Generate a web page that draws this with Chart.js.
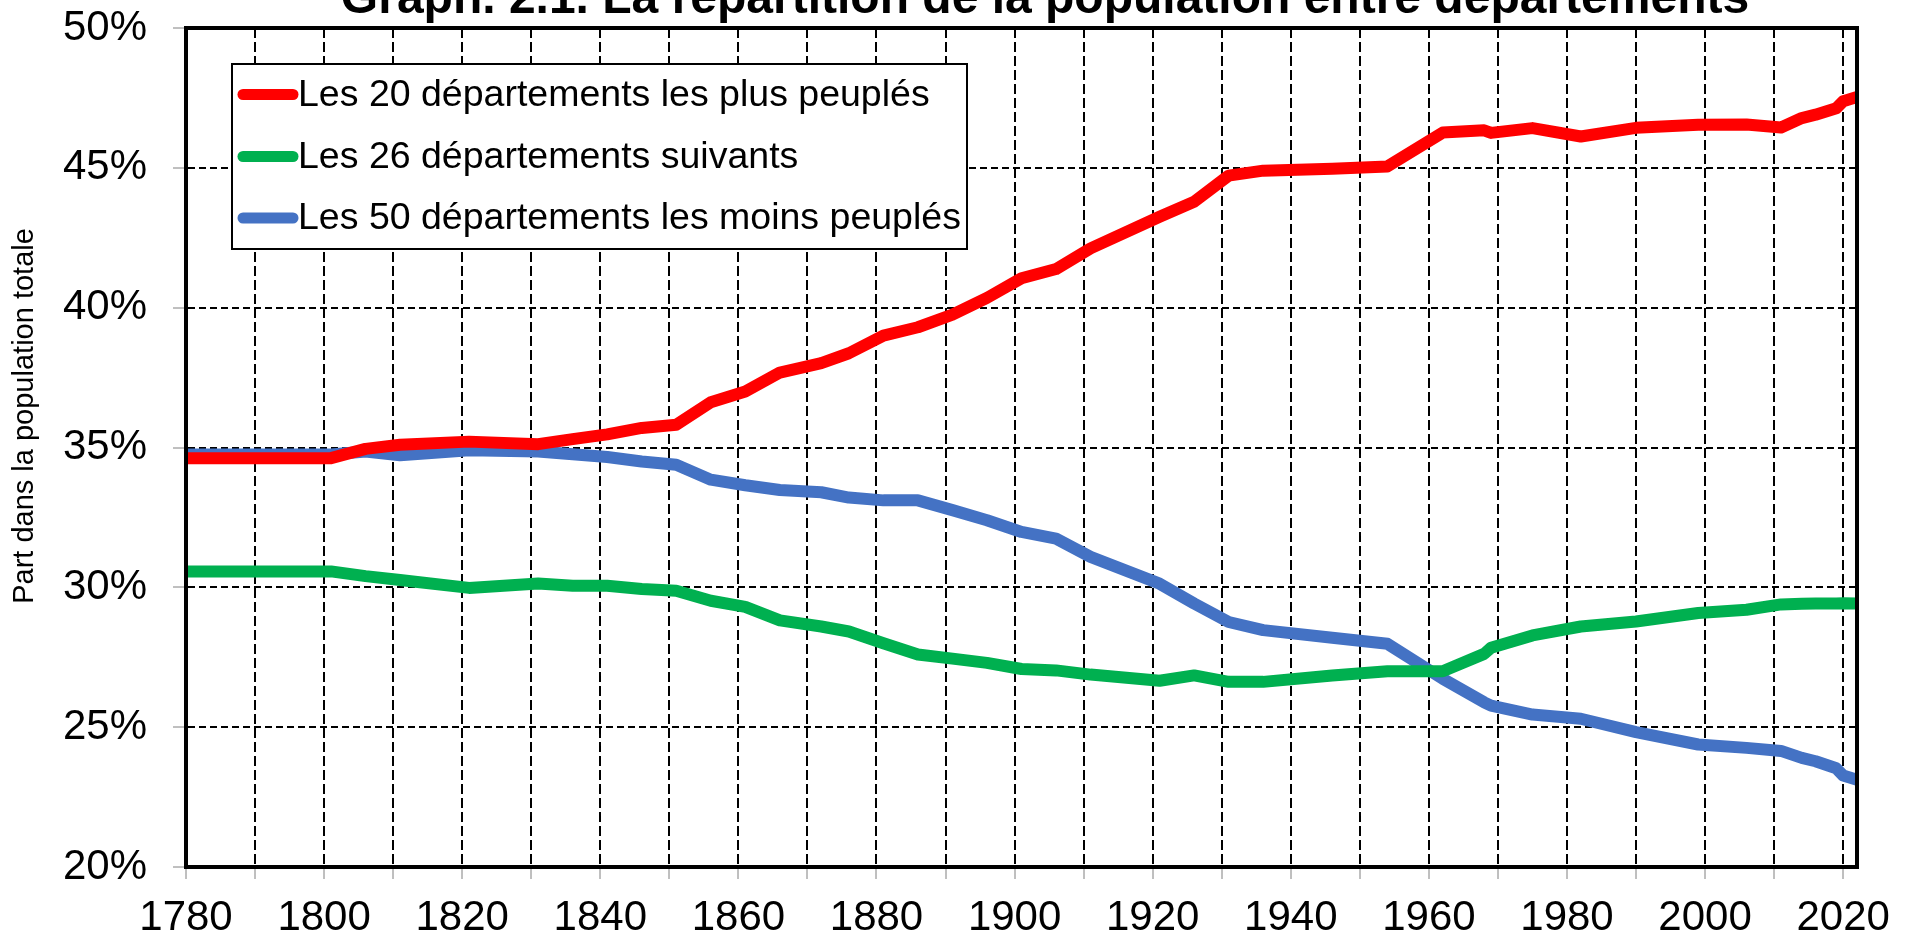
<!DOCTYPE html>
<html lang="fr">
<head>
<meta charset="utf-8">
<title>Graph. 2.1</title>
<script src="https://cdn.jsdelivr.net/npm/chart.js@4.4.1/dist/chart.umd.min.js"></script>
<style>
  html, body { margin: 0; padding: 0; background: #fff; }
  canvas { display: block; }
</style>
</head>
<body>
<canvas id="popChart" width="1905" height="937"></canvas>
<script>
// Data
const years = [1780, 1801, 1806, 1811, 1821, 1831, 1836, 1841, 1846, 1851, 1856, 1861, 1866, 1872,
  1876, 1881, 1886, 1891, 1896, 1901, 1906, 1911, 1921, 1926, 1931, 1936, 1946, 1954, 1962, 1968,
  1969, 1975, 1982, 1990, 1999, 2006, 2011, 2014, 2016, 2019, 2020, 2022];
const top20 = [34.62, 34.62, 34.95, 35.10, 35.21, 35.12, 35.30, 35.47, 35.70, 35.81, 36.62, 37.00,
  37.68, 38.02, 38.37, 39.00, 39.30, 39.75, 40.35, 41.05, 41.38, 42.12, 43.25, 43.79, 44.72, 44.90,
  44.97, 45.05, 46.26, 46.34, 46.25, 46.42, 46.12, 46.43, 46.54, 46.55, 46.44, 46.78, 46.90, 47.13,
  47.38, 47.53];
const next26 = [30.57, 30.57, 30.40, 30.26, 29.98, 30.14, 30.06, 30.06, 29.94, 29.88, 29.52, 29.30,
  28.82, 28.60, 28.42, 28.00, 27.60, 27.45, 27.30, 27.08, 27.03, 26.88, 26.66, 26.85, 26.62, 26.62,
  26.85, 27.00, 27.00, 27.62, 27.84, 28.28, 28.60, 28.78, 29.08, 29.20, 29.39, 29.41, 29.42, 29.42,
  29.43, 29.42];
const last50 = [34.75, 34.75, 34.86, 34.72, 34.90, 34.86, 34.76, 34.66, 34.50, 34.38, 33.85, 33.65,
  33.48, 33.40, 33.21, 33.11, 33.11, 32.76, 32.40, 31.98, 31.74, 31.09, 30.13, 29.42, 28.76, 28.47,
  28.20, 27.98, 26.73, 25.89, 25.77, 25.45, 25.30, 24.82, 24.38, 24.26, 24.15, 23.90, 23.78, 23.53,
  23.27, 23.12];
const seriesLabels = [
  'Les 20 départements les plus peuplés',
  'Les 26 départements suivants',
  'Les 50 départements les moins peuplés'
];
const chartTitle = 'Graph. 2.1. La répartition de la population entre départements';
const yTitle = 'Part dans la population totale';

const FONT = '"Liberation Sans", Arial, sans-serif';

function toPoints(values) {
  return values.map((v, i) => ({ x: years[i], y: v }));
}

function lineSet(label, values, color) {
  return {
    label: label,
    data: toPoints(values),
    borderColor: color,
    backgroundColor: color,
    borderWidth: 12,
    borderJoinStyle: 'round',
    pointRadius: 0,
    tension: 0,
    fill: false
  };
}

// Title, y title, legend box and frame
const decorations = {
  id: 'decorations',
  afterDatasetsDraw(chart) {
    const ctx = chart.ctx;
    const area = chart.chartArea;
    ctx.save();

    // legend
    ctx.fillStyle = '#fff';
    ctx.fillRect(232, 64, 735, 185);
    ctx.strokeStyle = '#000';
    ctx.lineWidth = 2;
    ctx.strokeRect(232, 64, 735, 185);
    const rows = [94.5, 156.5, 218];
    chart.data.datasets.forEach((ds, i) => {
      ctx.beginPath();
      ctx.strokeStyle = ds.borderColor;
      ctx.lineWidth = 11;
      ctx.lineCap = 'round';
      ctx.moveTo(243, rows[i]);
      ctx.lineTo(293, rows[i]);
      ctx.stroke();
      ctx.fillStyle = '#000';
      ctx.font = '37.5px ' + FONT;
      ctx.textAlign = 'left';
      ctx.textBaseline = 'middle';
      ctx.fillText(ds.label, 298, rows[i] + 1);
    });

    // frame
    ctx.lineCap = 'butt';
    ctx.strokeStyle = '#000';
    ctx.lineWidth = 4;
    ctx.strokeRect(area.left, area.top, area.right - area.left, area.bottom - area.top);

    // chart title (cut by the top edge, as in the source)
    ctx.fillStyle = '#000';
    ctx.font = 'bold 48px ' + FONT;
    ctx.textAlign = 'center';
    ctx.textBaseline = 'alphabetic';
    ctx.fillText(chartTitle, 1045, 13);

    // y axis title
    ctx.translate(25, 416);
    ctx.rotate(-Math.PI / 2);
    ctx.font = '29px ' + FONT;
    ctx.textBaseline = 'middle';
    ctx.fillText(yTitle, 0, 0);
    ctx.restore();
  }
};

const ctx = document.getElementById('popChart').getContext('2d');
const popChart = new Chart(ctx, {
  type: 'line',
  data: {
    datasets: [
      lineSet(seriesLabels[0], top20, '#FF0000'),
      lineSet(seriesLabels[1], next26, '#00B050'),
      lineSet(seriesLabels[2], last50, '#4472C4')
    ]
  },
  options: {
    responsive: false,
    animation: false,
    devicePixelRatio: 1,
    layout: {
      padding: { top: 28, right: 48, left: 0, bottom: 0 }
    },
    plugins: {
      legend: { display: false },
      title: { display: false },
      tooltip: { enabled: false }
    },
    scales: {
      x: {
        type: 'linear',
        min: 1780,
        max: 2022,
        afterFit: (scale) => {
          scale.height = 70;
          scale.paddingLeft = 0;
          scale.paddingRight = 0;
        },
        ticks: {
          stepSize: 10,
          includeBounds: false,
          autoSkip: false,
          maxRotation: 0,
          padding: 14,
          color: '#000',
          font: { family: FONT, size: 42 },
          callback: (value) => (value % 20 === 0 ? String(value) : '')
        },
        grid: {
          color: '#000',
          lineWidth: 2,
          tickLength: 12,
          tickColor: '#808080',
          tickWidth: 1
        },
        border: { display: true, color: '#000', width: 4, dash: [10, 4] }
      },
      y: {
        min: 20,
        max: 50,
        afterFit: (scale) => {
          scale.width = 186;
          scale.paddingTop = 0;
          scale.paddingBottom = 0;
        },
        ticks: {
          stepSize: 5,
          padding: 26,
          color: '#000',
          font: { family: FONT, size: 42 },
          callback: (value) => value + '%'
        },
        grid: {
          color: '#000',
          lineWidth: 2,
          tickLength: 13,
          tickColor: '#808080',
          tickWidth: 1
        },
        border: { display: true, color: '#000', width: 4, dash: [7, 4] }
      }
    }
  },
  plugins: [decorations]
});
</script>
</body>
</html>
